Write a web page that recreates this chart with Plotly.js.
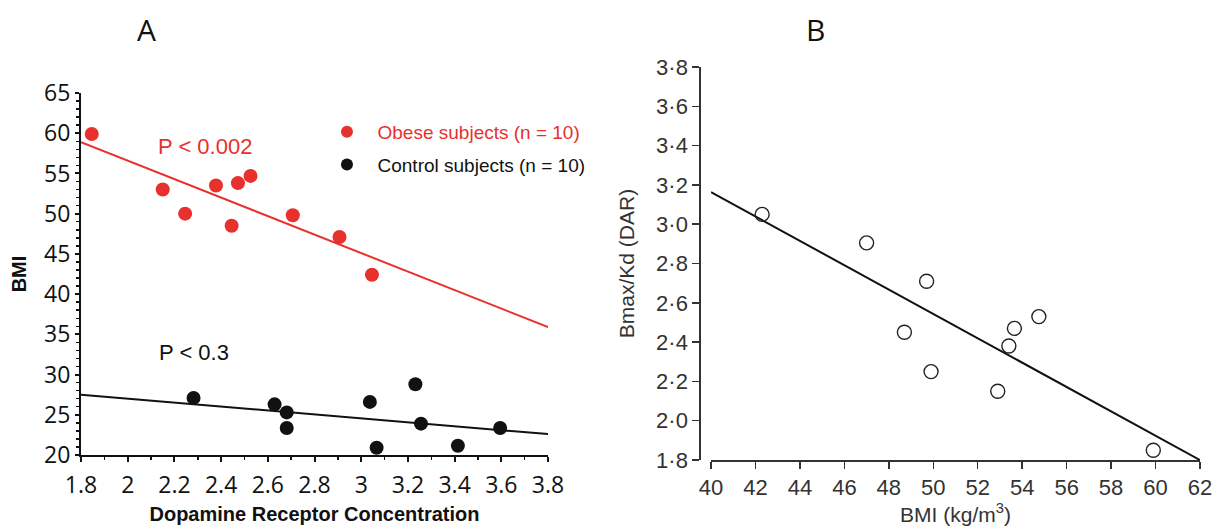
<!DOCTYPE html>
<html>
<head>
<meta charset="utf-8">
<script src="https://cdn.plot.ly/plotly-3.0.1.min.js"></script>
<style>html,body{margin:0;padding:0;background:#fff;}#chart{width:1220px;height:530px;}</style>
</head>
<body>
<div id="chart"></div>
<script>
// Panel A: obese subjects
const obeseDRC = [1.846, 2.15, 2.246, 2.378, 2.445, 2.472, 2.526, 2.707, 2.907, 3.046];
const obeseBMI = [59.9, 53.0, 50.0, 53.5, 48.5, 53.8, 54.7, 49.8, 47.1, 42.4];
// Panel A: control subjects
const controlDRC = [2.282, 2.629, 2.681, 2.681, 3.037, 3.066, 3.232, 3.256, 3.414, 3.595];
const controlBMI = [27.1, 26.3, 25.3, 23.35, 26.6, 20.9, 28.8, 23.9, 21.15, 23.35];
// Panel A regression lines (end points)
const fitDRC = [1.8, 3.8];
const obeseFitBMI = [58.9, 35.9];
const controlFitBMI = [27.5, 22.6];

// Panel B
const bmiB = [42.3, 47.0, 49.7, 48.7, 49.9, 52.9, 53.4, 53.65, 54.75, 59.9];
const dar = [3.05, 2.905, 2.71, 2.45, 2.25, 2.15, 2.38, 2.47, 2.53, 1.85];
const fitBMI = [40, 62];
const fitDAR = [3.163, 1.8];

const yTicksB = [1.8, 2.0, 2.2, 2.4, 2.6, 2.8, 3.0, 3.2, 3.4, 3.6, 3.8];
const yTickTextB = yTicksB.map(v => v.toFixed(1).replace('.', '·'));
const xTicksB = [40, 42, 44, 46, 48, 50, 52, 54, 56, 58, 60, 62];

const RED = '#e8302c';
const BLK = '#111111';

const traces = [
  {x: fitDRC, y: obeseFitBMI, mode: 'lines', line: {color: RED, width: 2}, showlegend: false, xaxis: 'x', yaxis: 'y', hoverinfo: 'skip'},
  {x: fitDRC, y: controlFitBMI, mode: 'lines', line: {color: BLK, width: 2}, showlegend: false, xaxis: 'x', yaxis: 'y', hoverinfo: 'skip'},
  {x: obeseDRC, y: obeseBMI, mode: 'markers', marker: {color: RED, size: 14}, name: '&nbsp;&nbsp;<span style="color:' + RED + '">Obese subjects (n = 10)</span>', legendgroup: 'a', xaxis: 'x', yaxis: 'y', cliponaxis: false},
  {x: controlDRC, y: controlBMI, mode: 'markers', marker: {color: BLK, size: 14}, name: '&nbsp;&nbsp;Control subjects (n = 10)', legendgroup: 'b', xaxis: 'x', yaxis: 'y', cliponaxis: false},
  {x: fitBMI, y: fitDAR, mode: 'lines', line: {color: BLK, width: 2}, showlegend: false, xaxis: 'x2', yaxis: 'y2', cliponaxis: false},
  {x: bmiB, y: dar, mode: 'markers', marker: {symbol: 'circle-open', color: '#222', size: 14, line: {width: 1.4, color: '#222'}}, showlegend: false, xaxis: 'x2', yaxis: 'y2', cliponaxis: false}
];

const tickFontA = {family: '"Open Sans", "Noto Sans", sans-serif', size: 23, color: '#111'};
const sans = '"Liberation Sans", Arial, sans-serif';
const tickFontB = {family: sans, size: 22, color: '#333'};

const layout = {
  width: 1220, height: 530,
  margin: {l: 0, r: 0, t: 0, b: 0},
  paper_bgcolor: '#fff', plot_bgcolor: 'rgba(0,0,0,0)',
  showlegend: true,
  legend: {x: 0.268, y: 0.787, xanchor: 'left', yanchor: 'top', traceorder: 'grouped', tracegroupgap: 5,
           font: {family: sans, size: 19, color: BLK}, bgcolor: 'rgba(0,0,0,0)', itemsizing: 'constant'},
  xaxis: {domain: [0.0664, 0.4492], range: [1.8, 3.8], tick0: 1.8, dtick: 0.2, anchor: 'y',
          showline: true, linecolor: BLK, linewidth: 2, ticks: 'outside', ticklen: 5, tickwidth: 2, tickcolor: BLK,
          minor: {dtick: 0.1, ticks: 'outside', ticklen: 3, tickwidth: 1.5, tickcolor: BLK},
          showgrid: false, zeroline: false, tickfont: tickFontA, ticklabelstandoff: 3,
          title: {text: '<b>Dopamine Receptor Concentration</b>', font: {family: sans, size: 20, color: BLK}, standoff: 8}},
  yaxis: {domain: [0.1415, 0.8245], range: [20, 65], dtick: 5, anchor: 'x',
          showline: true, linecolor: BLK, linewidth: 2, ticks: 'outside', ticklen: 4, tickwidth: 2, tickcolor: BLK,
          minor: {dtick: 1, ticks: 'outside', ticklen: 3, tickwidth: 1.5, tickcolor: BLK},
          showgrid: false, zeroline: false, tickfont: tickFontA, ticklabelstandoff: 0,
          title: {text: '<b>BMI</b>', font: {family: sans, size: 20, color: BLK}, standoff: 12}},
  xaxis2: {domain: [0.5828, 0.9836], range: [40, 62], tickvals: xTicksB, anchor: 'y2',
           showline: true, linecolor: '#333', linewidth: 1.5, ticks: 'outside', ticklen: 7, tickwidth: 1.5, tickcolor: '#333',
           showgrid: false, zeroline: false, tickfont: tickFontB,
           title: {text: 'BMI (kg/m<sup>3</sup>)', font: {family: sans, size: 21, color: '#333'}, standoff: 6}},
  yaxis2: {domain: [0.132, 0.8736], range: [1.8, 3.8], tickvals: yTicksB, ticktext: yTickTextB, anchor: 'free', position: 0.5732,
           showline: true, linecolor: '#333', linewidth: 1.5, ticks: 'outside', ticklen: 7, tickwidth: 1.5, tickcolor: '#333',
           showgrid: false, zeroline: false, tickfont: tickFontB,
           title: {text: 'Bmax/Kd (DAR)', font: {family: sans, size: 21, color: '#333'}, standoff: 14}},
  annotations: [
    {text: 'A', xref: 'paper', yref: 'paper', x: 146/1220, y: 1 - 30/530, showarrow: false, xanchor: 'center', yanchor: 'middle',
     font: {family: '"Open Sans", "Noto Sans", sans-serif', size: 30, color: BLK}},
    {text: 'B', xref: 'paper', yref: 'paper', x: 815/1220, y: 1 - 30/530, showarrow: false, xanchor: 'center', yanchor: 'middle',
     font: {family: '"Open Sans", "Noto Sans", sans-serif', size: 30, color: BLK}},
    {text: 'P < 0.002', xref: 'x', yref: 'y', x: 2.33, y: 58.3, showarrow: false, xanchor: 'center', yanchor: 'middle',
     font: {family: sans, size: 22, color: RED}},
    {text: 'P < 0.3', xref: 'x', yref: 'y', x: 2.285, y: 32.7, showarrow: false, xanchor: 'center', yanchor: 'middle',
     font: {family: sans, size: 22, color: BLK}}
  ]
};

Plotly.newPlot('chart', traces, layout, {staticPlot: true, displayModeBar: false});
</script>
</body>
</html>
